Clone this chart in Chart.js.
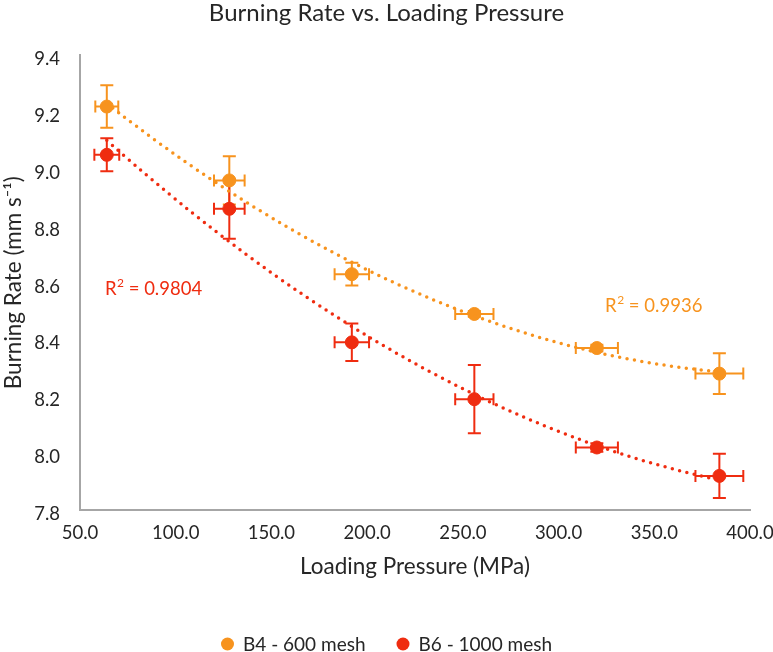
<!DOCTYPE html>
<html>
<head>
<meta charset="utf-8">
<script src="https://cdn.jsdelivr.net/npm/chart.js@4.4.0/dist/chart.umd.min.js"></script>
<style>
  html, body { margin: 0; padding: 0; background: #fff; }
  #wrap { width: 773px; height: 652px; }
</style>
</head>
<body>
<div id="wrap"><canvas id="graficaBurning"></canvas></div>
<script>
// Datos
const presion = [64, 128, 192, 256, 320, 384];
const errPresionB4 = [6, 8, 9, 10, 11, 12.5];
const errPresionB6 = [6.5, 8, 9, 10, 11, 12.5];
const tasaB4 = [9.22, 8.96, 8.63, 8.49, 8.37, 8.28];
const errTasaB4 = [0.075, 0.085, 0.04, 0.01, 0.012, 0.072];
const tasaB6 = [9.05, 8.86, 8.39, 8.19, 8.02, 7.92];
const errTasaB6 = [0.058, 0.105, 0.066, 0.12, 0.015, 0.078];
const r2B4 = '0.9936';
const r2B6 = '0.9804';
const ticksY = [7.8, 8.0, 8.2, 8.4, 8.6, 8.8, 9.0, 9.2, 9.4];
const ticksX = [50, 100, 150, 200, 250, 300, 350, 400];

const naranja = '#f7931e';
const rojo = '#ef2c10';
const texto = '#262626';
const fuente = "Lato, 'Open Sans', sans-serif";

// Línea de tendencia polinómica de orden 2 (mínimos cuadrados, como Excel)
function ajustePoli2(xs, ys) {
    let s = [0, 0, 0, 0, 0], t = [0, 0, 0];
    xs.forEach((x, i) => {
        for (let k = 0; k < 5; k++) s[k] += Math.pow(x, k);
        for (let k = 0; k < 3; k++) t[k] += ys[i] * Math.pow(x, k);
    });
    const m = [[s[0], s[1], s[2], t[0]], [s[1], s[2], s[3], t[1]], [s[2], s[3], s[4], t[2]]];
    for (let i = 0; i < 3; i++) {
        for (let j = i + 1; j < 3; j++) {
            const f = m[j][i] / m[i][i];
            for (let k = i; k < 4; k++) m[j][k] -= f * m[i][k];
        }
    }
    const c = [0, 0, 0];
    for (let i = 2; i >= 0; i--) {
        let v = m[i][3];
        for (let k = i + 1; k < 3; k++) v -= m[i][k] * c[k];
        c[i] = v / m[i][i];
    }
    return x => c[0] + c[1] * x + c[2] * x * x;
}

function tendencia(ys) {
    const f = ajustePoli2(presion, ys);
    const pts = [];
    for (let x = presion[0]; x <= presion[presion.length - 1]; x += 4) pts.push({ x: x, y: f(x) });
    return pts;
}

// Texto "R² = ..." con el 2 como superíndice
function etiquetaR2(ctx, txt, x, y, color) {
    ctx.fillStyle = color;
    ctx.font = '18.5px ' + fuente;
    ctx.fillText('R', x, y);
    let w = ctx.measureText('R').width;
    ctx.font = '12px ' + fuente;
    ctx.fillText('2', x + w + 0.5, y - 6);
    w += ctx.measureText('2').width + 0.5;
    ctx.font = '18.5px ' + fuente;
    ctx.fillText(' = ' + txt, x + w, y);
}

// Barras de error, etiquetas R² y leyenda
const barrasError = {
    id: 'barrasError',
    beforeDatasetsDraw(chart) {
        const { ctx, scales: { x, y } } = chart;
        const series = [
            { ys: tasaB4, ex: errPresionB4, ey: errTasaB4, color: naranja },
            { ys: tasaB6, ex: errPresionB6, ey: errTasaB6, color: rojo }
        ];
        ctx.save();
        ctx.lineWidth = 2;
        series.forEach(s => {
            ctx.strokeStyle = s.color;
            presion.forEach((px, i) => {
                const cx = x.getPixelForValue(px), cy = y.getPixelForValue(s.ys[i]);
                const x0 = x.getPixelForValue(px - s.ex[i]), x1 = x.getPixelForValue(px + s.ex[i]);
                const y0 = y.getPixelForValue(s.ys[i] + s.ey[i]), y1 = y.getPixelForValue(s.ys[i] - s.ey[i]);
                ctx.beginPath();
                ctx.moveTo(x0, cy); ctx.lineTo(x1, cy);
                ctx.moveTo(x0, cy - 6); ctx.lineTo(x0, cy + 6);
                ctx.moveTo(x1, cy - 6); ctx.lineTo(x1, cy + 6);
                ctx.moveTo(cx, y0); ctx.lineTo(cx, y1);
                ctx.moveTo(cx - 6.5, y0); ctx.lineTo(cx + 6.5, y0);
                ctx.moveTo(cx - 6.5, y1); ctx.lineTo(cx + 6.5, y1);
                ctx.stroke();
            });
        });
        ctx.restore();
    },
    afterDraw(chart) {
        const { ctx, scales: { x, y } } = chart;
        ctx.save();
        ctx.textBaseline = 'middle';
        etiquetaR2(ctx, r2B6, x.getPixelForValue(63), y.getPixelForValue(8.577), rojo);
        etiquetaR2(ctx, r2B4, x.getPixelForValue(324.3), y.getPixelForValue(8.517), naranja);

        // leyenda
        const items = chart.data.datasets.filter(d => !d.label.startsWith('tend'));
        ctx.font = '19px ' + fuente;
        const anchos = items.map(d => 13 + 9 + ctx.measureText(d.label).width);
        const total = anchos.reduce((a, b) => a + b, 0) + 31 * (items.length - 1);
        let lx = chart.width / 2 - total / 2;
        const ly = 644;
        items.forEach((d, i) => {
            ctx.fillStyle = d.backgroundColor;
            ctx.beginPath();
            ctx.arc(lx + 6.5, ly, 6.5, 0, Math.PI * 2);
            ctx.fill();
            ctx.fillStyle = texto;
            ctx.fillText(d.label, lx + 22, ly + 1);
            lx += anchos[i] + 31;
        });
        ctx.restore();
    }
};

const ctxBurning = document.getElementById('graficaBurning').getContext('2d');
new Chart(ctxBurning, {
    type: 'scatter',
    data: {
        datasets: [
            {
                label: 'B4 - 600 mesh',
                data: presion.map((p, i) => ({ x: p, y: tasaB4[i] })),
                backgroundColor: naranja,
                borderColor: naranja,
                pointRadius: 6.5,
                pointHoverRadius: 6.5,
                order: 2
            },
            {
                label: 'B6 - 1000 mesh',
                data: presion.map((p, i) => ({ x: p, y: tasaB6[i] })),
                backgroundColor: rojo,
                borderColor: rojo,
                pointRadius: 6.5,
                pointHoverRadius: 6.5,
                order: 2
            },
            {
                label: 'tendB4',
                type: 'line',
                data: tendencia(tasaB4),
                borderColor: naranja,
                borderWidth: 3.5,
                borderDash: [0, 7.5],
                borderCapStyle: 'round',
                pointRadius: 0,
                tension: 0.3,
                fill: false,
                order: 1
            },
            {
                label: 'tendB6',
                type: 'line',
                data: tendencia(tasaB6),
                borderColor: rojo,
                borderWidth: 3.5,
                borderDash: [0, 7.5],
                borderCapStyle: 'round',
                pointRadius: 0,
                tension: 0.3,
                fill: false,
                order: 1
            }
        ]
    },
    options: {
        responsive: true,
        maintainAspectRatio: false,
        animation: false,
        layout: { padding: { left: 0, right: 0, top: 0, bottom: 0 } },
        scales: {
            x: {
                type: 'linear',
                min: 50,
                max: 400,
                afterBuildTicks: axis => { axis.ticks = ticksX.map(v => ({ value: v })); },
                afterFit: axis => { axis.height = 142; axis.paddingRight = 23; axis.paddingLeft = 0; },
                grid: { display: false, drawTicks: false },
                border: { display: true, color: '#a6a6a6', width: 2 },
                ticks: {
                    padding: 12,
                    color: texto,
                    maxRotation: 0,
                    font: { family: fuente, size: 18.5 },
                    callback: v => v.toFixed(1)
                },
                title: {
                    display: true,
                    text: 'Loading Pressure (MPa)',
                    color: texto,
                    font: { family: fuente, size: 22.5 },
                    padding: { top: 0, bottom: 71.5 }
                }
            },
            y: {
                min: 7.8,
                max: 9.4,
                afterBuildTicks: axis => { axis.ticks = ticksY.map(v => ({ value: v })); },
                afterFit: axis => { axis.width = 80; },
                grid: { display: false, drawTicks: false },
                border: { display: true, color: '#a6a6a6', width: 2 },
                ticks: {
                    padding: 20,
                    labelOffset: 4,
                    color: texto,
                    font: { family: fuente, size: 18.5 },
                    callback: v => v.toFixed(1)
                },
                title: {
                    display: true,
                    text: 'Burning Rate (mm s⁻¹)',
                    color: texto,
                    font: { family: fuente, size: 22.5 },
                    padding: { top: 0, bottom: 0 }
                }
            }
        },
        plugins: {
            title: {
                display: true,
                text: 'Burning Rate vs. Loading Pressure',
                color: texto,
                font: { family: fuente, size: 24, weight: 'normal', lineHeight: 1.1 },
                padding: { top: 0, bottom: 29 }
            },
            legend: { display: false },
            tooltip: { enabled: false }
        }
    },
    plugins: [barrasError]
});
</script>
</body>
</html>
